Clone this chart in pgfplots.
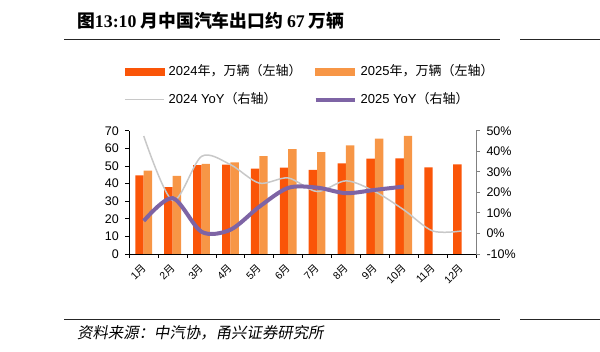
\documentclass[border=0pt]{standalone}
\usepackage{pgfplots}
\pgfplotsset{compat=1.18}
\usepackage{fontspec}
\setmainfont{Liberation Sans}
\newfontfamily\cjk{Noto Sans CJK SC}
\newfontfamily\cjkit[FakeSlant=0.18]{Noto Sans CJK SC}
\newfontfamily\tnr{Liberation Serif}
\definecolor{c24}{HTML}{FA5508}
\definecolor{c25}{HTML}{F79646}
\definecolor{cy24}{HTML}{C8C8C8}
\definecolor{cy25}{HTML}{7E64A5}
\begin{document}
\begin{tikzpicture}
\path[use as bounding box] (0bp,0bp) rectangle (600bp,352bp);
\node[anchor=west, inner sep=0pt] at (77bp,331bp) {\fontsize{17.8bp}{20bp}\selectfont\cjk\bfseries 图{\tnr\bfseries 13:10} 月中国汽车出口约 {\tnr\bfseries 67} 万辆};
\draw[line width=0.8bp, black!85] (64bp,313bp) -- (500bp,313bp);
\draw[line width=0.8bp, black!85] (520bp,313bp) -- (600bp,313bp);
\draw[line width=0.8bp, black!85] (64bp,33bp) -- (500bp,33bp);
\draw[line width=0.8bp, black!85] (520bp,33bp) -- (600bp,33bp);
\node[anchor=west, inner sep=0pt] at (77bp,19bp) {\fontsize{15.4bp}{17bp}\selectfont\cjkit 资料来源：中汽协，甬兴证券研究所};

\begin{axis}[
  at={(129.3bp,98bp)}, anchor=south west,
  scale only axis, width=346.7bp, height=123.3bp,
  xmin=-0.5, xmax=11.5, ymin=0, ymax=70, ytick={0,10,...,70},
  axis x line*=bottom, axis y line*=left,
  axis line style={-, color=black, line width=0.8bp},
  tick align=outside, major tick length=4bp,
  tick style={color=black, line width=0.8bp},
  xtick={-0.5,0.5,...,11.5}, xticklabels={},
  extra x ticks={0,...,11},
  extra x tick labels={1{\cjk 月},2{\cjk 月},3{\cjk 月},4{\cjk 月},5{\cjk 月},6{\cjk 月},7{\cjk 月},8{\cjk 月},9{\cjk 月},10{\cjk 月},11{\cjk 月},12{\cjk 月}},
  extra x tick style={major tick length=0pt, tick label style={xshift=-3bp, yshift=-4bp, rotate=45, anchor=north east, font=\fontsize{10.5bp}{12bp}\selectfont}},
  /pgf/number format/assume math mode=true,
  yticklabel style={xshift=-3bp, font=\fontsize{12.5bp}{14bp}\selectfont},
  ybar=0pt, bar width=8.4bp,
]
\addplot[fill=c24, draw=none] coordinates {(0,44.7) (1,37.9) (2,50.5) (3,50.8) (4,48.5) (5,49.0) (6,47.7) (7,51.5) (8,54.1) (9,54.3) (10,49.2) (11,50.9)};
\addplot[fill=c25, draw=none] coordinates {(0,47.4) (1,44.4) (2,51.2) (3,52.0) (4,55.6) (5,59.6) (6,57.9) (7,61.7) (8,65.5) (9,67.0)};
\end{axis}

\begin{axis}[
  at={(129.3bp,98bp)}, anchor=south west,
  scale only axis, width=346.7bp, height=123.3bp,
  xmin=-0.5, xmax=11.5, ymin=-10, ymax=50, ytick={-10,0,...,50},
  axis x line=none, axis y line*=right,
  axis line style={-, color=black!50, line width=0.8bp},
  tick align=outside, major tick length=4bp,
  tick style={color=black!50, line width=0.8bp},
  /pgf/number format/assume math mode=true,
  yticklabel={\pgfmathprintnumber{\tick}\%},
  yticklabel style={xshift=3bp, font=\fontsize{12.5bp}{14bp}\selectfont},
  legend columns=2, legend cell align=left,
  legend style={at={(-0.0153,1.530)}, anchor=north west, draw=none, fill=none, inner sep=0pt,
    nodes={inner sep=0pt, text height=10bp, text depth=3bp, font=\fontsize{13bp}{15bp}\selectfont},
    row sep=14.6bp,
    /tikz/every odd column/.append style={column sep=4bp},
    /tikz/every even column/.append style={column sep=12bp}},
]
\addlegendimage{legend image code/.code={\fill[c24] (0bp,-3.5bp) rectangle (39bp,3.5bp);}}
\addlegendentry{2024{\cjk 年，万辆（左轴）}}
\addlegendimage{legend image code/.code={\fill[c25] (0bp,-3.5bp) rectangle (39bp,3.5bp);}}
\addlegendentry{2025{\cjk 年，万辆（左轴）}}
\addplot[cy24, line width=1.5bp, smooth, tension=0.5, legend image code/.code={\draw[cy24, line width=1.5bp] (0bp,0bp) -- (39bp,0bp);}] coordinates {(0,47.4) (1,16) (2,37.5) (3,33.5) (4,24.5) (5,27.0) (6,20.4) (7,25.6) (8,20.4) (9,11.5) (10,1.2) (11,1.2)};
\addlegendentry{2024 YoY{\cjk （右轴）}}
\addplot[cy25, line width=4bp, smooth, tension=0.5, legend image code/.code={\draw[cy25, line width=4bp] (0bp,0bp) -- (39bp,0bp);}] coordinates {(0,6.1) (1,17.2) (2,0.8) (3,1.8) (4,13) (5,22.2) (6,22.3) (7,19.6) (8,21.2) (9,22.8)};
\addlegendentry{2025 YoY{\cjk （右轴）}}
\end{axis}
\end{tikzpicture}
\end{document}
